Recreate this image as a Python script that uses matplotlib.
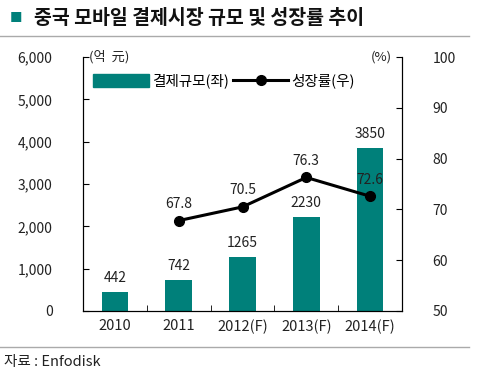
import matplotlib
matplotlib.use("Agg")
import matplotlib.pyplot as plt
from matplotlib.lines import Line2D
from matplotlib.patches import Patch

plt.rcParams['font.family'] = ['Noto Sans CJK KR', 'DejaVu Sans']

years = ["2010", "2011", "2012(F)", "2013(F)", "2014(F)"]
market = [442, 742, 1265, 2230, 3850]
growth_years = [1, 2, 3, 4]
growth = [67.8, 70.5, 76.3, 72.6]

TEAL = "#00807a"
TXT = "#222222"

fig = plt.figure(figsize=(4.86, 3.76), dpi=100)
ax1 = fig.add_axes([0.171, 0.173, 0.656, 0.675])

x = list(range(len(years)))
ax1.bar(x, market, width=0.42, color=TEAL, zorder=2)
for xi, v in zip(x, market):
    ax1.annotate(str(v), (xi, v), xytext=(0, 5), textcoords="offset points",
                 ha="center", va="bottom", fontsize=10, color=TXT)

ax1.set_xlim(-0.5, 4.5)
ax1.set_ylim(0, 6000)
ax1.set_yticks(range(0, 6001, 1000))
ax1.set_yticklabels([f"{v:,}" for v in range(0, 6001, 1000)], fontsize=10, color=TXT)
ax1.set_xticks(x)
ax1.set_xticklabels(years, fontsize=10.5, color=TXT)
ax1.tick_params(axis="x", length=0, pad=6)
ax1.set_xticks([0.5, 1.5, 2.5, 3.5], minor=True)
ax1.tick_params(axis="x", which="minor", direction="in", length=4)
ax1.tick_params(axis="y", direction="in", length=4, pad=22)
ax1.spines["top"].set_visible(False)

ax2 = ax1.twinx()
ax2.plot(growth_years, growth, color="black", lw=2.2, marker="o", ms=7, zorder=3)
for xi, v in zip(growth_years, growth):
    ax2.annotate(f"{v}", (xi, v), xytext=(0, 7), textcoords="offset points",
                 ha="center", va="bottom", fontsize=10, color=TXT)
ax2.set_ylim(50, 100)
ax2.set_yticks(range(50, 101, 10))
ax2.set_yticklabels([str(v) for v in range(50, 101, 10)], fontsize=10, color=TXT)
ax2.tick_params(axis="y", direction="in", length=4, pad=22)
ax2.spines["top"].set_visible(False)

ax1.text(0.02, 1.0, "(억  元)", transform=ax1.transAxes, fontsize=9.5,
         va="center", ha="left", color=TXT)
ax1.text(0.97, 1.0, "(%)", transform=ax1.transAxes, fontsize=9.5,
         va="center", ha="right", color=TXT)

handles = [Patch(color=TEAL),
           Line2D([0], [0], color="black", lw=2.2, marker="o", ms=7)]
ax1.legend(handles, ["결제규모(좌)", "성장률(우)"], loc="upper left",
           bbox_to_anchor=(0.0, 0.975), ncol=2, frameon=False, fontsize=10.5,
           handlelength=3.8, handleheight=1.0, handletextpad=0.2,
           columnspacing=0.3, borderaxespad=0.3)

# title and source
fig.text(0.02, 0.952, "■", color=TEAL, fontsize=9, va="center", ha="left")
fig.text(0.07, 0.952, "중국 모바일 결제시장 규모 및 성장률 추이", fontsize=14,
         fontweight="bold", va="center", ha="left", color="#111111")
fig.add_artist(Line2D([0.0, 0.965], [0.905, 0.905], color="#aaaaaa", lw=1))
fig.add_artist(Line2D([0.0, 0.965], [0.077, 0.077], color="#aaaaaa", lw=1))
fig.text(0.008, 0.038, "자료 : Enfodisk", fontsize=10.5, va="center", ha="left", color=TXT)

fig.savefig("out.png", dpi=100)
